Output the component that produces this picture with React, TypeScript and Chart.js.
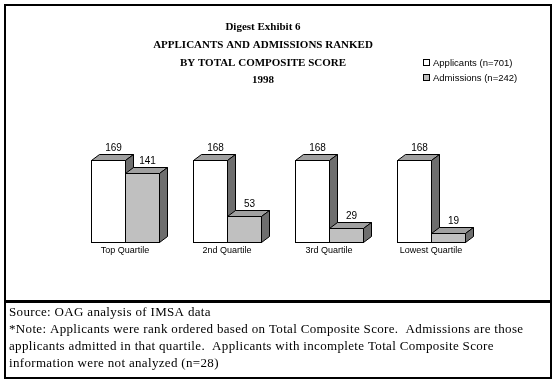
import React, { useEffect, useRef } from "react";
import { Chart, registerables } from "chart.js";

Chart.register(...registerables);

const categories = ["Top Quartile", "2nd Quartile", "3rd Quartile", "Lowest Quartile"];
const applicants = [169, 168, 168, 168];
const admissions = [141, 53, 29, 19];
const seriesNames = ["Applicants (n=701)", "Admissions (n=242)"];
const titleLines = [
  "Digest Exhibit 6",
  "APPLICANTS AND ADMISSIONS RANKED",
  "BY TOTAL COMPOSITE SCORE",
  "1998",
];
const noteLines = [
  "Source: OAG analysis of IMSA data",
  "*Note: Applicants were rank ordered based on Total Composite Score.  Admissions are those",
  "applicants admitted in that quartile.  Applicants with incomplete Total Composite Score",
  "information were not analyzed (n=28)",
];

const W = 556;
const H = 382;
const SERIF = "'Liberation Serif', 'Times New Roman', serif";
const SANS = "'Liberation Sans', Arial, sans-serif";
const FRONT = ["#ffffff", "#c0c0c0"];
const TOPC = "#a0a0a0";
const SIDEC = "#6e6e6e";
const DX = 8;
const DY = 6;

const decorPlugin = {
  id: "decor",
  beforeDraw(chart: any) {
    const ctx = chart.ctx;
    ctx.save();
    ctx.fillStyle = "#ffffff";
    ctx.fillRect(0, 0, W, H);
    ctx.strokeStyle = "#000";
    ctx.lineWidth = 2;
    ctx.strokeRect(5, 5, 546, 373);
    ctx.lineWidth = 3;
    ctx.beginPath();
    ctx.moveTo(4, 301.5);
    ctx.lineTo(552, 301.5);
    ctx.stroke();

    // title
    ctx.fillStyle = "#000";
    ctx.textAlign = "center";
    ctx.textBaseline = "middle";
    ctx.font = `bold 11px ${SERIF}`;
    titleLines.forEach((t, i) => ctx.fillText(t, 263, 27.5 + i * 17.6));

    // legend
    ctx.textAlign = "left";
    ctx.font = `9.5px ${SANS}`;
    seriesNames.forEach((t, i) => {
      const y = 63 + i * 15;
      ctx.fillStyle = FRONT[i];
      ctx.fillRect(423.5, y - 3.5, 6, 6);
      ctx.strokeStyle = "#000";
      ctx.lineWidth = 1;
      ctx.strokeRect(423.5, y - 3.5, 6, 6);
      ctx.fillStyle = "#000";
      ctx.fillText(t, 433, y);
    });

    // footnote
    ctx.font = `13px ${SERIF}`;
    (ctx as any).letterSpacing = "0.33px";
    noteLines.forEach((t, i) => ctx.fillText(t, 9, 313 + i * 17));
    (ctx as any).letterSpacing = "0px";
    ctx.restore();
  },
  afterDatasetsDraw(chart: any) {
    const ctx = chart.ctx;
    const m0 = chart.getDatasetMeta(0);
    const m1 = chart.getDatasetMeta(1);
    ctx.save();
    ctx.lineWidth = 1;
    ctx.strokeStyle = "#000";
    ctx.lineJoin = "miter";
    categories.forEach((cat, i) => {
      [m0, m1].forEach((meta, d) => {
        const el: any = meta.data[i];
        const l = Math.round(el.x - el.width / 2) + 0.5;
        const r = Math.round(el.x + el.width / 2) + 0.5;
        const t = Math.round(el.y) + 0.5;
        const b = Math.round(el.base) + 0.5;
        // front
        ctx.fillStyle = FRONT[d];
        ctx.fillRect(l, t, r - l, b - t);
        ctx.strokeRect(l, t, r - l, b - t);
        // top
        ctx.beginPath();
        ctx.moveTo(l, t);
        ctx.lineTo(l + DX, t - DY);
        ctx.lineTo(r + DX, t - DY);
        ctx.lineTo(r, t);
        ctx.closePath();
        ctx.fillStyle = TOPC;
        ctx.fill();
        ctx.stroke();
        // side
        ctx.beginPath();
        ctx.moveTo(r, t);
        ctx.lineTo(r + DX, t - DY);
        ctx.lineTo(r + DX, b - DY);
        ctx.lineTo(r, b);
        ctx.closePath();
        ctx.fillStyle = SIDEC;
        ctx.fill();
        ctx.stroke();
        // value label
        const v = chart.data.datasets[d].data[i];
        ctx.fillStyle = "#000";
        ctx.font = `10px ${SANS}`;
        ctx.textAlign = "center";
        ctx.textBaseline = "bottom";
        ctx.fillText(String(v), (l + r) / 2 + DX / 2 + 1, t - DY - 1);
      });
      // category label
      const xs = chart.scales.x.getPixelForValue(i);
      ctx.fillStyle = "#000";
      ctx.font = `9px ${SANS}`;
      ctx.textAlign = "center";
      ctx.textBaseline = "middle";
      ctx.fillText(cat, xs, 251);
    });
    ctx.restore();
  },
};

export default function App() {
  const ref = useRef<HTMLCanvasElement>(null);
  useEffect(() => {
    if (!ref.current) return;
    const chart = new Chart(ref.current, {
      type: "bar",
      data: {
        labels: categories,
        datasets: [
          { label: seriesNames[0], data: applicants, backgroundColor: FRONT[0], borderColor: "#000", borderWidth: 1 },
          { label: seriesNames[1], data: admissions, backgroundColor: FRONT[1], borderColor: "#000", borderWidth: 1 },
        ],
      },
      options: {
        responsive: false,
        animation: false,
        devicePixelRatio: 1,
        categoryPercentage: 0.66,
        barPercentage: 1,
        layout: { padding: { left: 74, right: 74, top: 96, bottom: H - 242 } },
        plugins: { legend: { display: false }, tooltip: { enabled: false }, title: { display: false } },
        scales: {
          x: { display: false },
          y: { display: false, min: 0, max: 300 },
        },
      },
      plugins: [decorPlugin],
    });
    return () => chart.destroy();
  }, []);
  return (
    <div style={{ position: "absolute", left: 0, top: 0, width: W, height: H }}>
      <canvas ref={ref} width={W} height={H} style={{ width: W, height: H, display: "block" }} />
    </div>
  );
}
